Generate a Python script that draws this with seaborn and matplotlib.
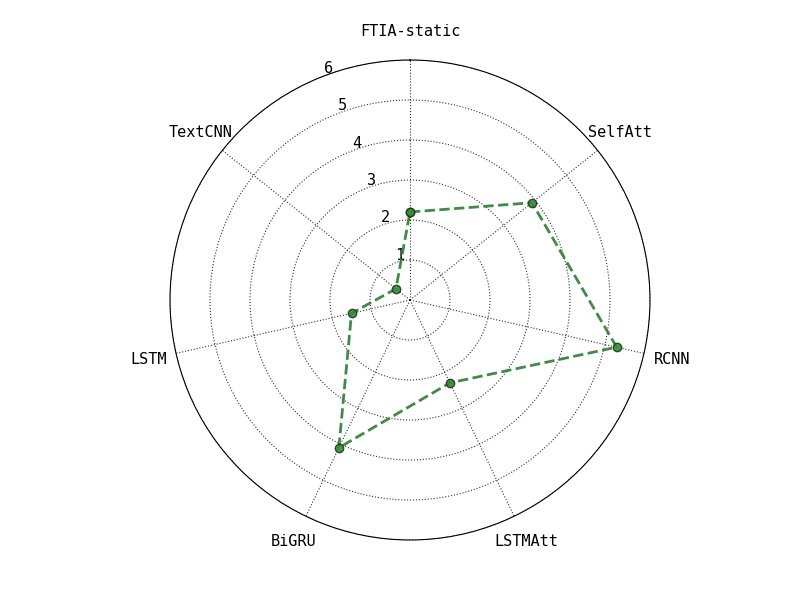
import numpy as np
import matplotlib
matplotlib.use("Agg")
import matplotlib.pyplot as plt
import seaborn as sns

models = ["FTIA-static", "SelfAtt", "RCNN", "LSTMAtt", "BiGRU", "LSTM", "TextCNN"]
scores = [2.2, 3.9, 5.3, 2.3, 4.1, 1.5, 0.45]
rticks = [1, 2, 3, 4, 5, 6]

sns.set_style("white")
plt.rcParams['font.family'] = ['DejaVu Sans Mono']

angles = np.linspace(0, 2 * np.pi, len(models), endpoint=False)
ang = np.concatenate([angles, angles[:1]])
vals = np.concatenate([scores, scores[:1]])

fig = plt.figure(figsize=(8, 6), dpi=100)
ax = fig.add_axes([0.2125, 0.1, 0.6, 0.8], polar=True)
ax.set_theta_zero_location("N")
ax.set_theta_direction(-1)
ax.plot(ang, vals, "--", color="#2e7d32", lw=2, alpha=0.9,
        marker="o", markersize=6, markerfacecolor="#3a8a3a", markeredgecolor="#1b3d1b")
ax.set_xticks(angles)
ax.set_xticklabels(models, fontsize=11, color="black")
ax.tick_params(axis="x", pad=10)
ax.set_ylim(0, 6)
ax.set_yticks(rticks)
ax.set_yticklabels([str(t) for t in rticks], fontsize=11, color="black")
ax.set_rlabel_position(-21)
ax.grid(True, color="black", linestyle=":", linewidth=0.8, alpha=0.8)
ax.spines["polar"].set_color("black")
plt.savefig("out.png")
